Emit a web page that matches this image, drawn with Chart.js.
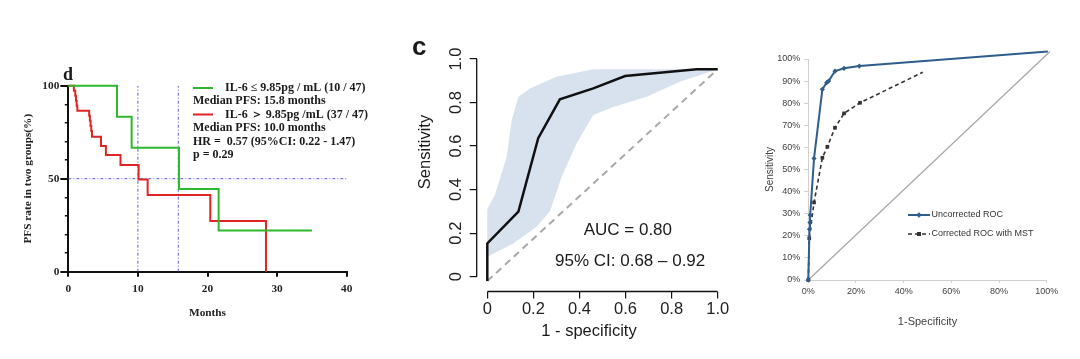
<!DOCTYPE html>
<html><head><meta charset="utf-8">
<script src="https://cdn.jsdelivr.net/npm/chart.js@4/dist/chart.umd.min.js"></script>
<style>
html,body{margin:0;padding:0;background:#fff;width:1080px;height:359px;overflow:hidden}
.p{position:absolute;top:0;height:359px}
</style></head><body>
<div class="p" style="left:0;width:380px"><canvas id="c1"></canvas></div>
<div class="p" style="left:380px;width:360px"><canvas id="c2"></canvas></div>
<div class="p" style="left:740px;width:340px"><canvas id="c3"></canvas></div>
<script>
// ---------- Panel d : Kaplan-Meier PFS ----------
const kmMonthTicks = [0, 10, 20, 30, 40];
const kmRateTicks = [0, 50, 100];
const kmRateMinorTicks = [0, 10, 20, 30, 40, 50, 60, 70, 80, 90, 100];
const lowIL6Months = [0, 7.0, 9.1, 15.9, 21.6, 35.0];
const lowIL6Rate   = [100, 83.3, 66.7, 44.4, 22.2, 22.2];
const highIL6Months = [0, 0.8, 1.0, 1.1, 1.2, 1.3, 3.0, 3.1, 3.2, 3.3, 3.4, 4.7, 5.4, 7.5, 10.1, 11.4, 20.4, 28.4];
const highIL6Rate   = [100, 97.3, 94.6, 91.9, 89.2, 86.5, 83.8, 81.1, 78.4, 75.7, 72.5, 67.6, 62.7, 57.3, 49.6, 41.2, 27.2, 0];
const medianMonths = [10.0, 15.8];
const halfRate = 50;
const kmLegend = [
  'IL-6 ≤ 9.85pg / mL (10 / 47)',
  'Median PFS: 15.8 months',
  'IL-6 ＞ 9.85pg /mL (37 / 47)',
  'Median PFS: 10.0 months',
  'HR =  0.57 (95%CI: 0.22 - 1.47)',
  'p = 0.29'
];

// ---------- Panel c : ROC with CI band ----------
const rocTicks = [0, 0.2, 0.4, 0.6, 0.8, 1.0];
const rocFpr  = [0, 0, 0.135, 0.221, 0.315, 0.46, 0.598, 0.909, 1.0];
const rocSens = [-0.02, 0.153, 0.299, 0.636, 0.815, 0.865, 0.922, 0.953, 0.953];
const ciUpperFpr  = [0, 0.033, 0.084, 0.106, 0.135, 0.185, 0.30, 0.46, 1.0];
const ciUpperSens = [0.31, 0.375, 0.551, 0.72, 0.827, 0.865, 0.919, 0.953, 0.953];
const ciLowerFpr  = [0, 0.113, 0.214, 0.272, 0.323, 0.388, 0.46, 0.547, 0.692, 0.836, 1.0];
const ciLowerSens = [0.092, 0.153, 0.23, 0.299, 0.459, 0.613, 0.743, 0.78, 0.827, 0.896, 0.953];
const chanceFpr  = [0, 1.0];
const chanceSens = [-0.02, 0.953];
const aucText = 'AUC = 0.80';
const ciText = '95% CI: 0.68 – 0.92';

// ---------- Panel : Uncorrected vs corrected ROC ----------
const pctXTicks = [0, 0.2, 0.4, 0.6, 0.8, 1.0];
const pctYTicks = [0, 0.1, 0.2, 0.3, 0.4, 0.5, 0.6, 0.7, 0.8, 0.9, 1.0];
const uncorrFpr  = [0, 0.005, 0.007, 0.008, 0.024, 0.059, 0.077, 0.085, 0.112, 0.15, 0.214, 1.005];
const uncorrSens = [0, 0.23, 0.26, 0.294, 0.55, 0.863, 0.893, 0.90, 0.945, 0.958, 0.968, 1.034];
const corrFpr  = [0, 0.004, 0.024, 0.059, 0.08, 0.112, 0.15, 0.217, 0.48];
const corrSens = [0, 0.189, 0.351, 0.553, 0.603, 0.689, 0.754, 0.802, 0.94];
const refFpr  = [0, 1.014];
const refSens = [0, 1.034];
const seriesNames = ['Uncorrected ROC', 'Corrected ROC with MST'];

const pts = (xs, ys) => xs.map((x, i) => ({x, y: ys[i]}));
const fixTicks = arr => s => { s.ticks = arr.map(v => ({value: v})); };
const SERIF = '"Liberation Serif", "Times New Roman", serif';
const SANS = '"Liberation Sans", Arial, sans-serif';
Chart.defaults.animation = false;
Chart.defaults.responsive = true;
Chart.defaults.maintainAspectRatio = false;
Chart.defaults.devicePixelRatio = 1;
Chart.defaults.plugins.legend.display = false;
Chart.defaults.plugins.tooltip.enabled = false;

// ===== Chart 1 =====
const kmFont = {family: SERIF, weight: 'bold', size: 11.3};
const guide = {borderColor: '#5a5ad0', borderWidth: 1, borderDash: [3, 2, 1, 2], pointRadius: 0, fill: false};
const kmTextPlugin = {
  id: 'kmText',
  afterDraw(chart) {
    const ctx = chart.ctx;
    ctx.save();
    ctx.fillStyle = '#1a1a1a';
    ctx.font = 'bold 18px ' + SERIF;
    ctx.textBaseline = 'alphabetic';
    ctx.fillText('d', 63, 80);
    ctx.font = 'bold 12px ' + SERIF;
    ctx.textBaseline = 'middle';
    const ys = [88, 101, 114.5, 128, 141.5, 155];
    const cols = ['#2eb82e', null, '#e02424', null, null, null];
    kmLegend.forEach((t, i) => {
      if (cols[i]) {
        ctx.strokeStyle = cols[i]; ctx.lineWidth = 2;
        ctx.beginPath(); ctx.moveTo(193, ys[i]); ctx.lineTo(213, ys[i]); ctx.stroke();
        ctx.fillText(t, 225, ys[i]);
      } else {
        ctx.fillText(t, 193, ys[i]);
      }
    });
    ctx.restore();
  }
};
new Chart(document.getElementById('c1'), {
  type: 'line',
  data: {datasets: [
    {data: pts(lowIL6Months, lowIL6Rate), stepped: true, borderColor: '#2eb82e', borderWidth: 2, pointRadius: 0, clip: 6},
    {data: pts(highIL6Months, highIL6Rate), stepped: true, borderColor: '#e02424', borderWidth: 2, pointRadius: 0, clip: 6},
    Object.assign({data: [{x: 0, y: halfRate}, {x: 40, y: halfRate}]}, guide),
    Object.assign({data: [{x: medianMonths[0], y: 0}, {x: medianMonths[0], y: 100}]}, guide),
    Object.assign({data: [{x: medianMonths[1], y: 0}, {x: medianMonths[1], y: 100}]}, guide)
  ]},
  options: {
    layout: {padding: {top: 85.7, right: 33.3, left: 0, bottom: 0}},
    scales: {
      x: {type: 'linear', min: 0, max: 40, afterBuildTicks: fixTicks(kmMonthTicks), afterFit: s => { s.height = 87.3; },
        border: {display: true, color: '#111', width: 2},
        grid: {drawOnChartArea: false, tickLength: 5, color: '#111', lineWidth: 2},
        ticks: {font: kmFont, color: '#222', padding: 6, maxRotation: 0},
        title: {display: true, text: 'Months', font: kmFont, color: '#222', padding: {top: 0, bottom: 39.2}}},
      y: {type: 'linear', min: 0, max: 100, position: 'left', weight: 1, afterBuildTicks: fixTicks(kmRateTicks), afterFit: s => { s.width = 68.3; },
        border: {display: true, color: '#111', width: 2},
        grid: {drawOnChartArea: false, tickLength: 8, color: '#111', lineWidth: 2},
        ticks: {font: kmFont, color: '#222', padding: 1},
        title: {display: true, text: 'PFS rate in two groups(%)', font: kmFont, color: '#222', padding: {top: 21.5, bottom: 0}}},
      yMinor: {type: 'linear', min: 0, max: 100, position: 'left', weight: 0, afterBuildTicks: fixTicks(kmRateMinorTicks), afterFit: s => { s.width = 0; },
        border: {display: false},
        grid: {drawOnChartArea: false, tickLength: 3.5, color: '#111', lineWidth: 1.5},
        ticks: {display: false}}
    }
  },
  plugins: [kmTextPlugin]
});

// ===== Chart 2 =====
const rocFont = {family: SANS, size: 16.5};
const rocPlugin = {
  id: 'rocAxes',
  afterDraw(chart) {
    const {ctx, chartArea: a, scales: {x, y}} = chart;
    ctx.save();
    ctx.strokeStyle = '#111'; ctx.lineWidth = 1.3;
    ctx.beginPath();
    ctx.moveTo(x.getPixelForValue(rocTicks[0]), a.bottom); ctx.lineTo(x.getPixelForValue(rocTicks[rocTicks.length - 1]), a.bottom);
    ctx.moveTo(a.left, y.getPixelForValue(rocTicks[0])); ctx.lineTo(a.left, y.getPixelForValue(rocTicks[rocTicks.length - 1]));
    ctx.stroke();
    ctx.fillStyle = '#1a1a1a';
    ctx.font = '17px ' + SANS; ctx.textAlign = 'center'; ctx.textBaseline = 'middle';
    ctx.fillText(aucText, x.getPixelForValue(0.61), y.getPixelForValue(0.215));
    ctx.fillText(ciText, x.getPixelForValue(0.62), y.getPixelForValue(0.069));
    ctx.font = '16.5px ' + SANS;
    ctx.fillText('1 - specificity', 209, 331.7);
    ctx.save(); ctx.translate(45, 152); ctx.rotate(-Math.PI / 2); ctx.fillText('Sensitivity', 0, 0); ctx.restore();
    ctx.font = 'bold 26px ' + SANS; ctx.textAlign = 'left'; ctx.textBaseline = 'alphabetic';
    ctx.fillText('c', 32, 55);
    ctx.restore();
  }
};
new Chart(document.getElementById('c2'), {
  type: 'line',
  data: {datasets: [
    {data: pts(rocFpr, rocSens), borderColor: '#111', borderWidth: 2.5, pointRadius: 0},
    {data: pts(chanceFpr, chanceSens), borderColor: '#a8a8a8', borderWidth: 2, borderDash: [7, 5], pointRadius: 0},
    {data: pts(ciUpperFpr.concat(ciLowerFpr.slice().reverse()), ciUpperSens.concat(ciLowerSens.slice().reverse())),
      borderWidth: 0, borderColor: 'rgba(0,0,0,0)', backgroundColor: '#d8e2ef', fill: 'shape', pointRadius: 0}
  ]},
  options: {
    layout: {padding: {top: 50.3, right: 13.1, left: 0, bottom: 0}},
    scales: {
      x: {type: 'linear', min: -0.046, max: 1.04, afterBuildTicks: fixTicks(rocTicks), afterFit: s => { s.height = 67.5; },
        border: {display: false},
        grid: {drawOnChartArea: false, tickLength: 7, color: '#111', lineWidth: 1.2},
        ticks: {font: rocFont, color: '#222', padding: 1, maxRotation: 0, callback: v => v === 0 ? '0' : v.toFixed(1)}},
      y: {type: 'linear', min: -0.068, max: 1.04, afterBuildTicks: fixTicks(rocTicks), afterFit: s => { s.width = 96.7; },
        border: {display: false},
        grid: {drawOnChartArea: false, tickLength: 7, color: '#111', lineWidth: 1.2},
        ticks: {font: rocFont, color: '#222', padding: 2, minRotation: 90, maxRotation: 90, crossAlign: 'center',
          callback: v => v === 0 ? '0' : v.toFixed(1)}}
    }
  },
  plugins: [rocPlugin]
});

// ===== Chart 3 =====
const xlFont = {family: SANS, size: 9};
const blue = '#2f5d8c';
const legendPlugin = {
  id: 'xlLegend',
  afterDraw(chart) {
    const ctx = chart.ctx;
    ctx.save();
    ctx.font = '9px ' + SANS; ctx.fillStyle = '#333'; ctx.textBaseline = 'middle';
    const rows = [{y: 215, c: blue, dash: [], style: 'd'}, {y: 234, c: '#333', dash: [4, 3], style: 's'}];
    rows.forEach((r, i) => {
      ctx.strokeStyle = r.c; ctx.lineWidth = i ? 1.5 : 2; ctx.setLineDash(r.dash);
      ctx.beginPath(); ctx.moveTo(168, r.y); ctx.lineTo(190, r.y); ctx.stroke();
      ctx.setLineDash([]); ctx.fillStyle = r.c;
      ctx.beginPath();
      if (r.style === 'd') { ctx.moveTo(179, r.y - 2.8); ctx.lineTo(181.8, r.y); ctx.lineTo(179, r.y + 2.8); ctx.lineTo(176.2, r.y); ctx.closePath(); }
      else { ctx.rect(177, r.y - 2, 4, 4); }
      ctx.fill();
      ctx.fillStyle = '#333';
      ctx.fillText(seriesNames[i], 191.5, r.y);
    });
    ctx.restore();
  }
};
const lastNone = n => c => c.dataIndex === n - 1 ? 0 : 2.6;
new Chart(document.getElementById('c3'), {
  type: 'line',
  data: {datasets: [
    {label: seriesNames[0], data: pts(uncorrFpr, uncorrSens), borderColor: blue, borderWidth: 2,
      pointStyle: 'rectRot', pointRadius: lastNone(uncorrFpr.length), pointBackgroundColor: blue, pointBorderWidth: 0, clip: false},
    {label: seriesNames[1], data: pts(corrFpr, corrSens), borderColor: '#333', borderWidth: 1.6, borderDash: [4, 3],
      pointStyle: 'rect', pointRadius: lastNone(corrFpr.length), pointBackgroundColor: '#333', pointBorderWidth: 0, clip: false},
    {data: pts(refFpr, refSens), borderColor: '#a6a6a6', borderWidth: 1.2, pointRadius: 0, clip: false}
  ]},
  options: {
    layout: {padding: {top: 59, right: 33.3, left: 0, bottom: 0}},
    scales: {
      x: {type: 'linear', min: 0, max: 1, afterBuildTicks: fixTicks(pctXTicks), afterFit: s => { s.height = 79; },
        border: {display: true, color: '#d0d0d0', width: 1},
        grid: {drawOnChartArea: false, tickLength: 3, color: '#d0d0d0'},
        ticks: {font: xlFont, color: '#404040', padding: 3.6, maxRotation: 0, callback: v => Math.round(v * 100) + '%'},
        title: {display: true, text: '1-Specificity', font: {family: SANS, size: 11}, color: '#404040', padding: {top: 0, bottom: 30.7}}},
      y: {type: 'linear', min: 0, max: 1, afterBuildTicks: fixTicks(pctYTicks), afterFit: s => { s.width = 68.3; },
        border: {display: true, color: '#d0d0d0', width: 1},
        grid: {drawOnChartArea: false, tickLength: 4, color: '#d0d0d0'},
        ticks: {font: xlFont, color: '#404040', padding: 4, callback: v => Math.round(v * 100) + '%'},
        title: {display: true, text: 'Sensitivity', font: {family: SANS, size: 10}, color: '#404040', padding: {top: 24, bottom: 0}}}
    }
  },
  plugins: [legendPlugin]
});
</script>
</body></html>
